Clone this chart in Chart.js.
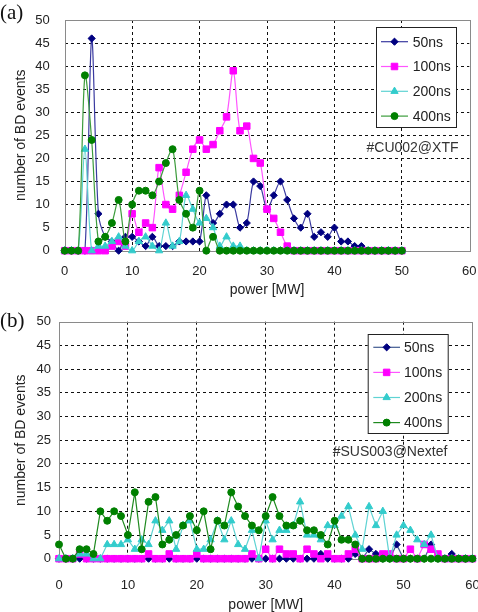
<!DOCTYPE html>
<html><head><meta charset="utf-8">
<script src="https://cdn.jsdelivr.net/npm/chart.js"></script>
<style>
html,body{margin:0;padding:0;background:#fff;}
#wrap{position:relative;width:478px;height:612px;overflow:hidden;background:#fff;}
#ca{position:absolute;left:0;top:0;}
#cb{position:absolute;left:0;top:300px;}
.lab{position:absolute;font-family:"Liberation Serif","DejaVu Serif",serif;font-size:21px;color:#111;line-height:1;}
</style></head><body>
<div id="wrap">
<canvas id="ca" width="478" height="300"></canvas>
<canvas id="cb" width="478" height="312"></canvas>
<div class="lab" style="left:0px;top:2px">(a)</div>
<div class="lab" style="left:0px;top:310px">(b)</div>
</div>
<script>
// ---------- data ----------
const seriesNames = ['50ns', '100ns', '200ns', '400ns'];
const xTitle = 'power [MW]';
const yTitle = 'number of BD events';
const noteA = '#CU002@XTF';
const noteB = '#SUS003@Nextef';
const xTicks = [0, 10, 20, 30, 40, 50, 60];
const yTicks = [0, 5, 10, 15, 20, 25, 30, 35, 40, 45, 50];

// panel (a): power 0..50 MW
const powerA = [0,1,2,3,4,5,6,7,8,9,10,11,12,13,14,15,16,17,18,19,20,21,22,23,24,25,26,27,28,29,30,31,32,33,34,35,36,37,38,39,40,41,42,43,44,45,46,47,48,49,50];
const a50ns  = [0,0,0,0,46,8,3,2,0,3,3,2,1,3,1,1,1,2,2,2,2,12,6,8,10,10,5,6,15,14,9,12,15,11,7,5,8,3,4,3,5,2,2,1,1,0,0,0,0,0,0];
const a100ns = [0,0,0,0,0,0,0,1,2,1,8,4,6,5,18,10,9,12,17,22,24,22,23,26,29,39,26,27,20,19,9,7,4,1,0,0,0,0,0,0,0,0,0,0,0,0,0,0,0,0,0];
const a200ns = [0,0,0,22,0,1,1,2,3,1,0,2,3,1,0,6,1,2,12,9,6,7,5,1,3,1,1,0,0,0,0,0,0,0,0,0,0,0,0,0,0,0,0,0,0,0,0,0,0,0,0];
const a400ns = [0,0,0,38,24,2,3,6,11,2,10,13,13,12,15,19,22,11,8,5,13,0,3,0,0,0,0,0,0,0,0,0,0,0,0,0,0,0,0,0,0,0,0,0,0,0,0,0,0,0,0];

// panel (b): power 0..60 MW
const powerB = [0,1,2,3,4,5,6,7,8,9,10,11,12,13,14,15,16,17,18,19,20,21,22,23,24,25,26,27,28,29,30,31,32,33,34,35,36,37,38,39,40,41,42,43,44,45,46,47,48,49,50,51,52,53,54,55,56,57,58,59,60];
const b50ns  = [0,0,0,0,0,0,0,0,0,0,0,0,0,0,0,0,0,0,0,0,0,0,0,0,0,0,0,0,0,0,0,0,0,0,0,0,0,0,1,0,0,0,0,1,0,2,1,0,0,3,0,0,0,0,3,0,0,1,0,0,0];
const b100ns = [0,0,0,1,0,0,0,0,0,0,0,0,0,1,0,0,1,0,0,0,1,0,0,0,0,0,0,0,1,0,2,0,2,1,1,0,2,1,0,1,0,0,1,2,0,0,0,1,1,0,0,2,0,3,2,1,0,0,0,0,0];
const b200ns = [0,0,0,1,1,0,0,3,3,3,4,2,4,3,8,6,8,2,7,8,2,2,4,8,4,8,3,2,6,0,8,4,6,6,7,12,5,5,4,7,7,9,11,5,2,11,7,10,0,5,7,6,4,3,5,0,0,0,0,0,0];
const b400ns = [3,0,0,2,2,1,10,8,10,9,5,14,2,12,13,3,4,5,7,9,6,10,2,8,7,14,11,9,7,6,9,13,9,7,7,8,6,6,5,3,8,4,4,3,0,0,0,0,0,0,0,0,0,0,0,0,0,0,0,0,0];

// ---------- styles ----------
const FONT = '"Liberation Sans", Arial, sans-serif';
const markerColors = ['#000080', '#ff00ff', '#33cccc', '#008000'];
const lineColorsA  = ['#3a3aa0', '#ff55ff', '#5fd3d3', '#3c9c3c'];
const lineColorsB  = ['#405a90', '#ff55ff', '#5fd3d3', '#1f8a1f'];
const markerStyles = ['rectRot', 'rect', 'triangle', 'circle'];
const markerRadius = [3.6, 4.6, 4.2, 3.5];

function makeDatasets(xs, series, lineColors, tension) {
  return series.map((s, i) => ({
    label: seriesNames[i],
    data: xs.map((x, k) => ({x: x, y: s[k]})),
    borderColor: lineColors[i],
    backgroundColor: markerColors[i],
    pointBackgroundColor: markerColors[i],
    pointBorderColor: markerColors[i],
    pointStyle: markerStyles[i],
    pointRadius: markerRadius[i],
    pointBorderWidth: 1,
    borderWidth: 1.2,
    tension: tension,
    clip: false,
    order: 4 - i
  }));
}

function drawMarker(ctx, style, r, x, y) {
  ctx.beginPath();
  if (style === 'rectRot') {
    ctx.moveTo(x, y - r); ctx.lineTo(x + r, y); ctx.lineTo(x, y + r); ctx.lineTo(x - r, y); ctx.closePath();
  } else if (style === 'rect') {
    const h = r * Math.SQRT1_2; ctx.rect(x - h, y - h, 2 * h, 2 * h);
  } else if (style === 'triangle') {
    ctx.moveTo(x, y - r); ctx.lineTo(x + r * 0.866, y + r * 0.5); ctx.lineTo(x - r * 0.866, y + r * 0.5); ctx.closePath();
  } else {
    ctx.arc(x, y, r, 0, Math.PI * 2);
  }
  ctx.fill(); ctx.stroke();
}

const framePlugin = {
  id: 'frame',
  beforeDatasetsDraw(chart) {
    const {ctx, chartArea: a} = chart;
    ctx.save();
    ctx.strokeStyle = '#8a8a8a'; ctx.lineWidth = 1;
    ctx.strokeRect(Math.round(a.left) + 0.5, Math.round(a.top) + 0.5, Math.round(a.right - a.left), Math.round(a.bottom - a.top));
    ctx.restore();
  },
  afterDraw(chart, args, o) {
    const ctx = chart.ctx;
    ctx.save();
    // legend box
    ctx.fillStyle = '#fff'; ctx.fillRect(o.bx, o.by, o.bw, o.bh);
    ctx.strokeStyle = '#222'; ctx.lineWidth = 1;
    ctx.strokeRect(o.bx + 0.5, o.by + 0.5, o.bw, o.bh);
    ctx.font = '14px ' + FONT; ctx.textBaseline = 'middle'; ctx.textAlign = 'left';
    chart.data.datasets.forEach((ds, i) => {
      const y = o.ry0 + i * o.rdy;
      ctx.strokeStyle = ds.borderColor; ctx.lineWidth = 1.2;
      ctx.beginPath(); ctx.moveTo(o.lx0, y); ctx.lineTo(o.lx1, y); ctx.stroke();
      ctx.fillStyle = ds.pointBackgroundColor; ctx.strokeStyle = ds.pointBorderColor; ctx.lineWidth = 1;
      drawMarker(ctx, ds.pointStyle, ds.pointRadius, (o.lx0 + o.lx1) / 2, y);
      ctx.fillStyle = '#222';
      ctx.fillText(ds.label, o.tx, y + 1);
    });
    // note
    ctx.textAlign = 'center'; ctx.fillStyle = '#333';
    ctx.fillText(o.note, o.nx, o.ny);
    ctx.restore();
  }
};

function gridColor(c) {
  if (c.tick && (c.tick.value === c.scale.min || c.tick.value === c.scale.max)) return 'rgba(0,0,0,0)';
  return '#111';
}

function makeScales(o) {
  return {
    x: {
      type: 'linear', min: xTicks[0], max: xTicks[xTicks.length - 1],
      afterBuildTicks(s) { s.ticks = xTicks.map(v => ({value: v})); },
      ticks: {padding: o.xTickPad, color: '#222', font: {family: FONT, size: 13}, maxRotation: 0},
      grid: {color: gridColor, lineWidth: 1, drawTicks: false},
      border: {display: false, dash: [3, 3]},
      title: {display: true, text: xTitle, color: '#222', font: {family: FONT, size: 14, lineHeight: 1}, padding: {top: 0, bottom: o.xTitlePad}},
      afterFit(s) { s.height = o.xh; s.paddingLeft = 0; s.paddingRight = 0; }
    },
    y: {
      type: 'linear', min: yTicks[0], max: yTicks[yTicks.length - 1],
      afterBuildTicks(s) { s.ticks = yTicks.map(v => ({value: v})); },
      ticks: {padding: o.yTickPad, color: '#222', font: {family: FONT, size: 13}},
      grid: {color: gridColor, lineWidth: 1, drawTicks: false},
      border: {display: false, dash: [3, 3]},
      title: {display: true, text: yTitle, color: '#222', font: {family: FONT, size: 14, lineHeight: 1}, padding: {top: o.yTitlePad, bottom: 0}},
      afterFit(s) { s.width = o.yw; s.paddingTop = 0; s.paddingBottom = 0; }
    }
  };
}

function makeChart(id, xs, series, lineColors, tension, lay, frame) {
  return new Chart(document.getElementById(id), {
    type: 'line',
    data: {datasets: makeDatasets(xs, series, lineColors, tension)},
    options: {
      responsive: false, animation: false, devicePixelRatio: 1,
      layout: {padding: {top: lay.top, right: lay.right, left: 0, bottom: 0}},
      plugins: {legend: {display: false}, tooltip: {enabled: false}, frame: frame},
      scales: makeScales(lay)
    },
    plugins: [framePlugin]
  });
}

makeChart('ca', powerA, [a50ns, a100ns, a200ns, a400ns], lineColorsA, 0.3,
  {top: 20, right: 8.7, yw: 64.7, xh: 49.3, xTickPad: 13, xTitlePad: 3, yTickPad: 15, yTitlePad: 14},
  {bx: 376, by: 27, bw: 80, bh: 100, ry0: 41.7, rdy: 24.8, lx0: 381, lx1: 408, tx: 412.7, note: noteA, nx: 412.5, ny: 148});

makeChart('cb', powerB, [b50ns, b100ns, b200ns, b400ns], lineColorsB, 0,
  {top: 21.7, right: 4, yw: 59, xh: 53.3, xTickPad: 19, xTitlePad: 0, yTickPad: 8, yTitlePad: 14},
  {bx: 367.7, by: 34, bw: 80, bh: 99, ry0: 47.3, rdy: 25.1, lx0: 373.3, lx1: 400, tx: 404, note: noteB, nx: 390, ny: 151.7});
</script>
</body></html>
